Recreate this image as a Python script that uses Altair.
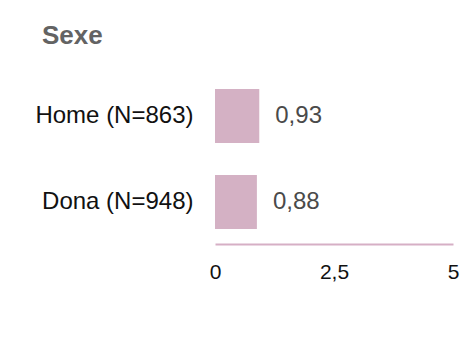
import altair as alt
import pandas as pd

categories = ["Home (N=863)", "Dona (N=948)"]
values = [0.93, 0.88]
x_ticks = [0, 2.5, 5]
title_text = "Sexe"

df = pd.DataFrame({"cat": categories, "val": values})

FONT = "Liberation Sans"

y_enc = alt.Y(
    "cat:N",
    sort=categories,
    title=None,
    scale=alt.Scale(paddingInner=0.372, paddingOuter=0.174),
    axis=alt.Axis(
        domain=False, ticks=False, labelFontSize=24, labelColor="#111111",
        labelPadding=22, labelLimit=400, labelFont=FONT,
    ),
)
x_enc = alt.X(
    "val:Q",
    title=None,
    scale=alt.Scale(domain=[0, 5], nice=False),
    axis=alt.Axis(
        values=x_ticks, grid=False, ticks=False, domainColor="#d6afc5",
        domainWidth=2, labelFontSize=21, labelColor="#111111", labelPadding=17,
        labelFlush=False, labelFont=FONT,
        labelExpr="replace(format(datum.value, '~g'), '.', ',')",
    ),
)

base = alt.Chart(df).encode(y=y_enc, x=x_enc)

bars = base.mark_bar(color="#d4b1c4")
labels = base.mark_text(
    align="left", baseline="middle", dx=16, fontSize=24, color="#4a4a4a", font=FONT
).transform_calculate(
    lbl="replace(format(datum.val, '.2f'), '.', ',')"
).encode(text="lbl:N")

chart = (
    alt.layer(bars, labels)
    .properties(
        width=238,
        height=170,
        autosize=alt.AutoSizeParams(type="none"),
        padding={"left": 207, "top": 66, "right": 8, "bottom": 80},
        title=alt.TitleParams(
            text=title_text, anchor="start", frame="group", dx=-173,
            offset=4, baseline="alphabetic", fontSize=26, fontWeight="bold",
            color="#636363", font=FONT,
        ),
    )
    .configure_view(stroke=None)
)

chart.save("out.html", embed_options={"renderer": "svg", "actions": False})
